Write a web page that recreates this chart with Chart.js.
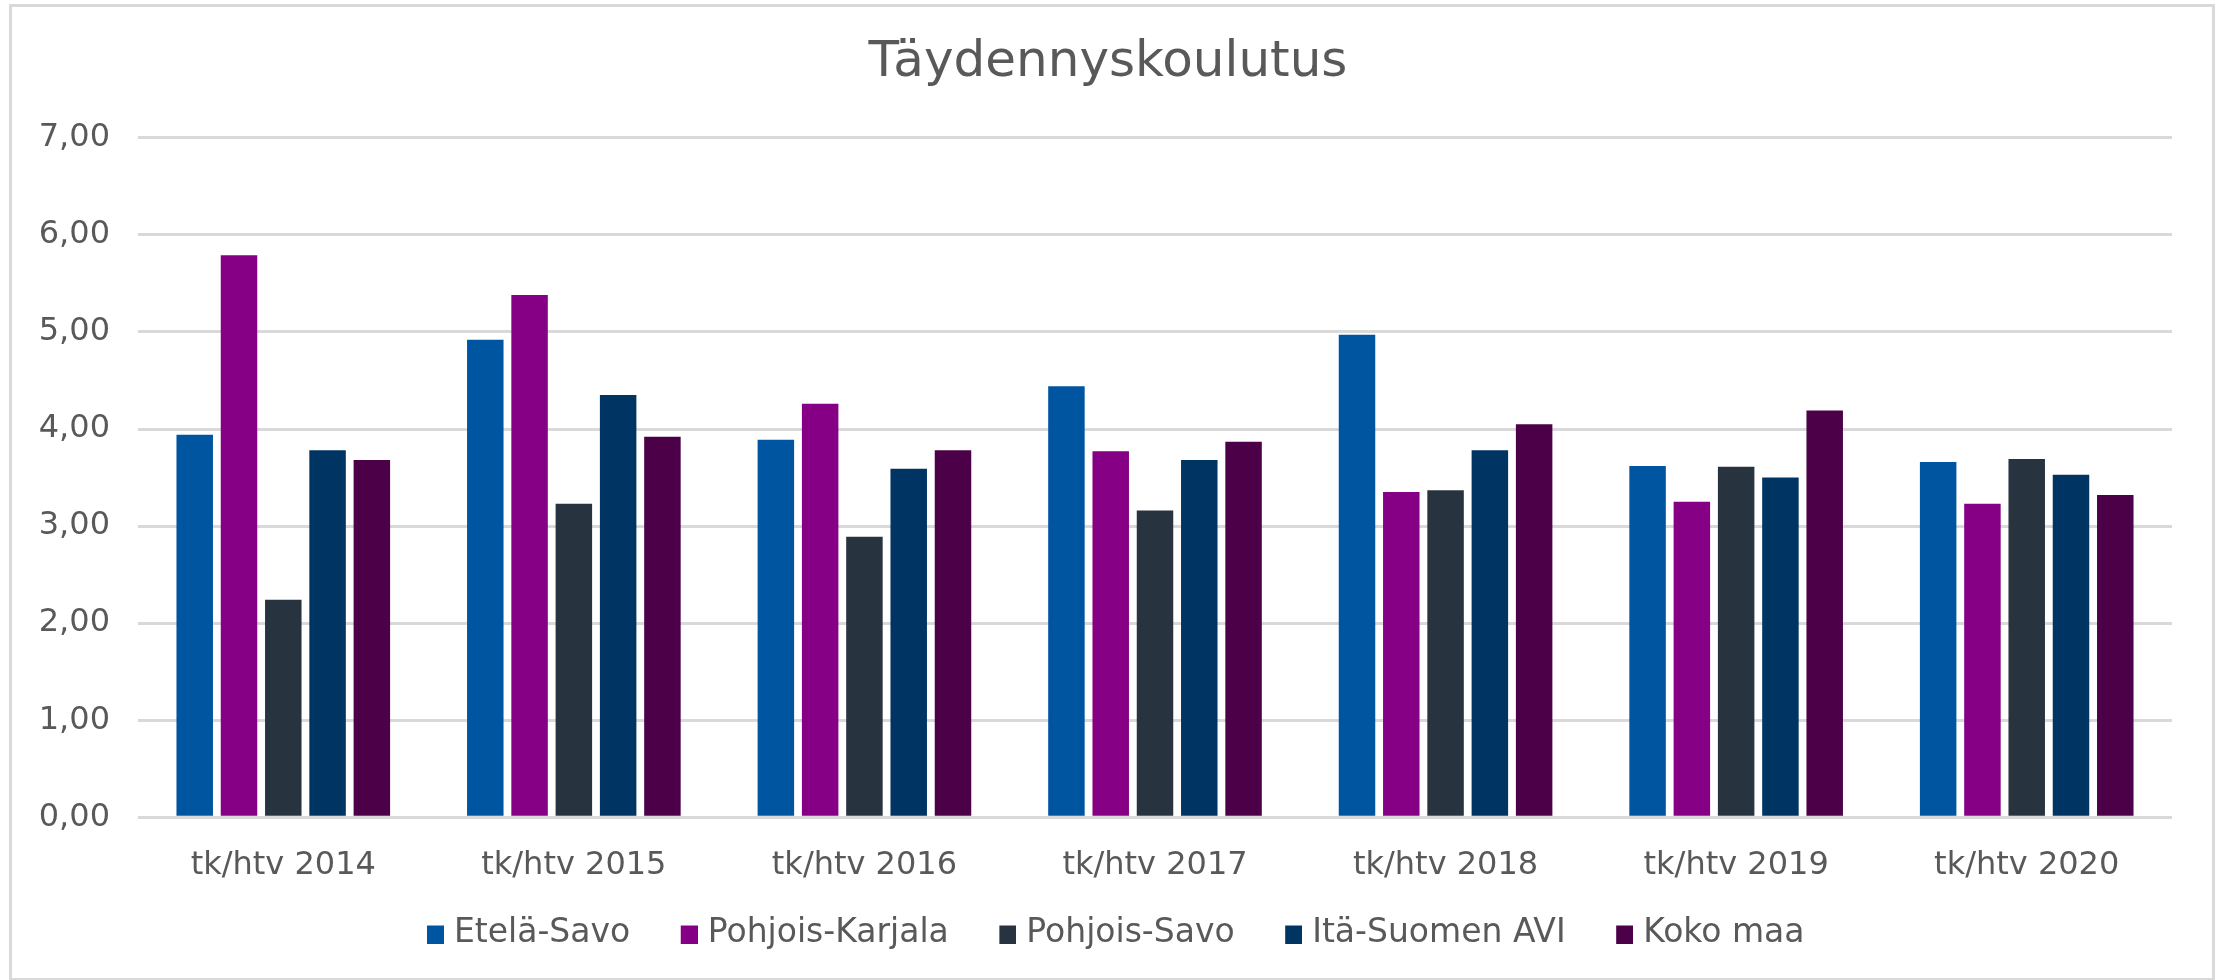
<!DOCTYPE html>
<html>
<head>
<meta charset="utf-8">
<script src="https://cdn.jsdelivr.net/npm/chart.js@4.4.1/dist/chart.umd.min.js"></script>
<style>
  body { margin: 0; background: #fff; }
  #frame {
    position: absolute;
    left: 9px;
    top: 4px;
    width: 2200px;
    height: 971px;
    border: 3px solid #d9d9d9;
  }
  #chart { position: absolute; left: 0; top: 0; }
</style>
</head>
<body>
<div id="frame"></div>
<canvas id="chart" width="2216" height="980"></canvas>
<script>
const categories = ['tk/htv 2014', 'tk/htv 2015', 'tk/htv 2016', 'tk/htv 2017', 'tk/htv 2018', 'tk/htv 2019', 'tk/htv 2020'];

const seriesNames = ['Etelä-Savo', 'Pohjois-Karjala', 'Pohjois-Savo', 'Itä-Suomen AVI', 'Koko maa'];
const seriesColors = ['#0055a0', '#850085', '#283340', '#003462', '#4b0048'];

const etelaSavo = [3.94, 4.92, 3.89, 4.44, 4.97, 3.62, 3.66];
const pohjoisKarjala = [5.79, 5.38, 4.26, 3.77, 3.35, 3.25, 3.23];
const pohjoisSavo = [2.24, 3.23, 2.89, 3.16, 3.37, 3.61, 3.69];
const itaSuomenAvi = [3.78, 4.35, 3.59, 3.68, 3.78, 3.50, 3.53];
const kokoMaa = [3.68, 3.92, 3.78, 3.87, 4.05, 4.19, 3.32];

const yTicks = [0, 1, 2, 3, 4, 5, 6, 7];

const textColor = '#595959';
const fontFamily = '"DejaVu Sans", Verdana, sans-serif';

const seriesValues = [etelaSavo, pohjoisKarjala, pohjoisSavo, itaSuomenAvi, kokoMaa];

// legend marker: small square sitting at the right end of a wider transparent image,
// so the square ends up close to its text like in the excel legend
function makeMarker(color) {
    const c = document.createElement('canvas');
    c.width = 39;
    c.height = 21;
    const g = c.getContext('2d');
    g.fillStyle = color;
    g.fillRect(22, 3, 17, 18);
    return c;
}
const legendMarkers = seriesColors.map(makeMarker);

const datasets = seriesNames.map((name, i) => ({
    label: name,
    data: seriesValues[i],
    backgroundColor: seriesColors[i],
    borderWidth: 0,
    categoryPercentage: 0.762,
    barPercentage: 0.824
}));

const ctx = document.getElementById('chart');

const chart = new Chart(ctx, {
    type: 'bar',
    data: {
        labels: categories,
        datasets: datasets
    },
    options: {
        responsive: false,
        animation: false,
        layout: {
            padding: { left: 10, right: 10, top: 0, bottom: 20.5 }
        },
        scales: {
            x: {
                grid: { display: false },
                border: { display: false },
                ticks: {
                    color: textColor,
                    padding: 21,
                    font: { family: fontFamily, size: 32 }
                },
                afterFit: (scale) => { scale.height = 64.2; }
            },
            y: {
                min: 0,
                max: 7,
                afterBuildTicks: (scale) => {
                    scale.ticks = yTicks.map(v => ({ value: v }));
                },
                grid: {
                    color: '#d9d9d9',
                    lineWidth: 3,
                    drawTicks: false
                },
                border: { display: false },
                ticks: {
                    color: textColor,
                    padding: 28,
                    font: { family: fontFamily, size: 32 },
                    callback: (value) => value.toFixed(2).replace('.', ',')
                },
                afterFit: (scale) => { scale.width = 128; }
            },
            // empty axis on the right, only keeps the plot area where excel had it
            yRight: {
                position: 'right',
                grid: { display: false },
                border: { display: false },
                ticks: { display: false },
                afterFit: (scale) => { scale.width = 34; }
            }
        },
        plugins: {
            title: {
                display: true,
                text: 'Täydennyskoulutus',
                color: textColor,
                font: { family: fontFamily, size: 50, weight: 'normal' },
                padding: { top: 33, bottom: 44.8 }
            },
            legend: {
                position: 'bottom',
                labels: {
                    color: textColor,
                    usePointStyle: true,
                    boxWidth: 26,
                    boxHeight: 18,
                    padding: 35,
                    font: { family: fontFamily, size: 33 },
                    generateLabels: (chart) => {
                        const items = Chart.defaults.plugins.legend.labels.generateLabels(chart);
                        items.forEach((item, i) => { item.pointStyle = legendMarkers[i]; });
                        return items;
                    }
                }
            },
            tooltip: { enabled: false }
        }
    }
});
</script>
</body>
</html>
